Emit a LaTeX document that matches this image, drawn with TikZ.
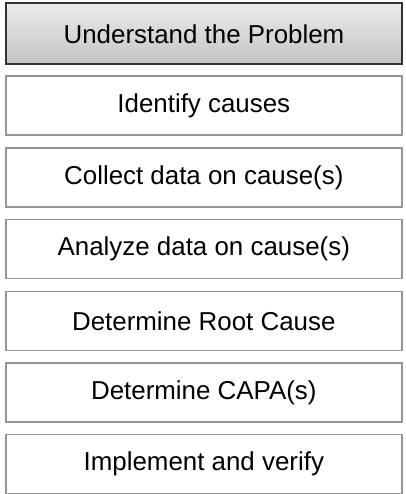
\documentclass[tikz,border=0pt]{standalone}
\usepackage{fontspec}
\setmainfont{Liberation Sans}
\begin{document}
\begin{tikzpicture}[x=1pt,y=1pt,
  stepbox/.style={draw=black!42, line width=1.6pt, fill=white, minimum width=396pt,
    minimum height=59pt, inner sep=0pt, anchor=north west, font=\fontsize{25.9}{30}\selectfont},
  headbox/.style={draw=black!80, line width=2pt, top color=black!8, bottom color=black!23,
    minimum width=396pt, minimum height=61pt, inner sep=0pt, anchor=north west,
    font=\fontsize{25.9}{30}\selectfont}]
\useasboundingbox (0,0) rectangle (405,-494);
\node[headbox] (s1) at (5,-2.5) {Understand the Problem};
\node[stepbox] (s2) at (5,-75.5) {Identify causes};
\node[stepbox] (s3) at (5,-147) {Collect data on cause(s)};
\node[stepbox] (s4) at (5,-218.5) {Analyze data on cause(s)};
\node[stepbox] (s5) at (5,-290.5) {Determine Root Cause};
\node[stepbox] (s6) at (5,-362) {Determine CAPA(s)};
\node[stepbox] (s7) at (5,-433.5) {Implement and verify};
\end{tikzpicture}
\end{document}
